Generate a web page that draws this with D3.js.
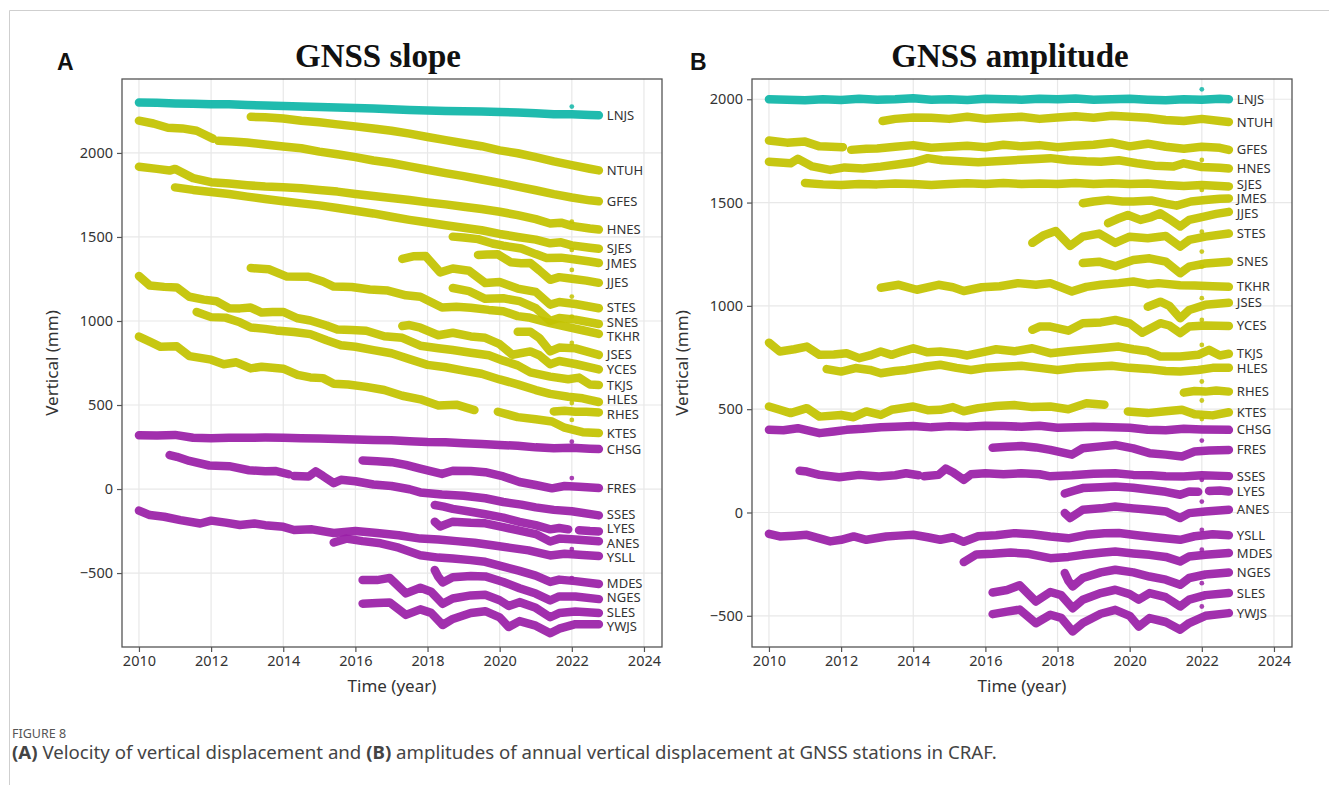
<!DOCTYPE html>
<html><head><meta charset="utf-8">
<script src="https://cdn.jsdelivr.net/npm/d3@7"></script>
<style>
body{margin:0;background:#fff}
svg{display:block}
</style>
</head><body>
<svg id="c" width="1329" height="785"></svg>
<script>
// ---------- DATA ----------
const xTickYears = [2010, 2012, 2014, 2016, 2018, 2020, 2022, 2024];
const yTickValues = [-500, 0, 500, 1000, 1500, 2000];
const stations = ["LNJS","NTUH","GFES","HNES","SJES","JMES","JJES","STES","SNES","TKHR","JSES","YCES","TKJS","HLES","RHES","KTES",
                  "CHSG","FRES","SSES","LYES","ANES","YSLL","MDES","NGES","SLES","YWJS"];
const stationGroup = ["c","y","y","y","y","y","y","y","y","y","y","y","y","y","y","y",
                      "m","m","m","m","m","m","m","m","m","m"];

// Panel A: vertical displacement (mm) with trend, [year, value]; null = gap
const slopeSeries = [
 [[2010,2300],[2010.5,2298],[2011,2294],[2011.5,2292],[2012,2290],[2012.5,2290],[2013,2285],[2013.5,2282],[2014,2280],[2014.5,2276],[2015,2273],[2015.5,2270],[2016,2268],[2016.5,2264],[2017,2260],[2017.5,2256],[2018,2252],[2018.5,2250],[2019,2248],[2019.5,2246],[2020,2244],[2020.5,2240],[2021,2236],[2021.5,2230],[2022,2230],[2022.5,2226],[2022.75,2224]],
 [[2013.1,2215],[2013.5,2212],[2014,2205],[2014.5,2192],[2015,2182],[2015.5,2170],[2016,2158],[2016.5,2146],[2017,2132],[2017.5,2115],[2018,2095],[2018.5,2076],[2019,2058],[2019.5,2040],[2020,2015],[2020.5,1998],[2021,1975],[2021.5,1950],[2022,1928],[2022.5,1906],[2022.75,1896]],
 [[2010,2192],[2010.4,2175],[2010.8,2150],[2011.2,2146],[2011.6,2132],[2012.05,2085],null,[2012.2,2072],[2012.6,2068],[2013,2062],[2013.5,2050],[2014,2038],[2014.5,2028],[2015,2008],[2015.5,1992],[2016,1975],[2016.5,1955],[2017,1940],[2017.5,1920],[2018,1900],[2018.5,1880],[2019,1862],[2019.5,1842],[2020,1822],[2020.5,1800],[2021,1778],[2021.5,1755],[2022,1735],[2022.5,1718],[2022.75,1712]],
 [[2010,1918],[2010.5,1905],[2010.85,1895],[2011,1905],[2011.5,1850],[2012,1826],[2012.5,1818],[2013,1808],[2013.5,1800],[2014,1796],[2014.5,1790],[2015,1780],[2015.5,1770],[2016,1756],[2016.5,1744],[2017,1732],[2017.5,1720],[2018,1706],[2018.5,1694],[2019,1680],[2019.5,1666],[2020,1650],[2020.5,1630],[2021,1606],[2021.4,1580],[2021.7,1585],[2022,1566],[2022.5,1550],[2022.75,1544]],
 [[2011,1795],[2011.5,1780],[2012,1768],[2012.5,1756],[2013,1740],[2013.5,1726],[2014,1712],[2014.5,1700],[2015,1688],[2015.5,1672],[2016,1656],[2016.5,1640],[2017,1620],[2017.5,1602],[2018,1586],[2018.5,1570],[2019,1555],[2019.5,1540],[2020,1518],[2020.5,1500],[2021,1484],[2021.4,1462],[2021.7,1468],[2022,1450],[2022.5,1436],[2022.75,1430]],
 [[2018.7,1502],[2019,1497],[2019.4,1487],[2019.8,1461],[2020.1,1448],[2020.6,1431],[2021,1398],[2021.3,1375],[2021.7,1377],[2022.1,1366],[2022.5,1354],[2022.75,1345]],
 [[2019.4,1393],[2019.65,1396],[2019.95,1397],[2020.3,1350],[2020.6,1344],[2020.85,1345],[2021.1,1301],[2021.4,1245],[2021.65,1261],[2022,1251],[2022.4,1240],[2022.75,1227]],
 [[2017.3,1369],[2017.6,1385],[2017.95,1386],[2018.35,1289],[2018.7,1312],[2019.15,1299],[2019.6,1226],[2020,1232],[2020.5,1193],[2021,1173],[2021.4,1097],[2021.65,1113],[2022.1,1101],[2022.75,1076]],
 [[2018.7,1196],[2019.15,1178],[2019.6,1132],[2020.1,1135],[2020.55,1118],[2021,1077],[2021.4,1000],[2021.65,1018],[2022.1,1008],[2022.75,982]],
 [[2013.1,1315],[2013.6,1308],[2014.1,1264],[2014.7,1263],[2015.1,1235],[2015.4,1205],[2015.9,1202],[2016.4,1187],[2016.9,1181],[2017.4,1153],[2017.8,1144],[2018.4,1080],[2018.8,1085],[2019.2,1079],[2019.7,1066],[2020.1,1058],[2020.5,1029],[2020.8,1021],[2021.4,987],[2021.8,968],[2022.3,945],[2022.75,923]],
 [[2020.5,936],[2020.85,936],[2021.1,899],[2021.4,819],[2021.65,842],[2022.1,837],[2022.75,798]],
 [[2017.3,970],[2017.5,976],[2017.8,960],[2018.3,915],[2018.7,930],[2019.2,908],[2019.6,900],[2020,862],[2020.35,799],[2020.85,819],[2021.1,796],[2021.4,743],[2021.65,762],[2022.1,744],[2022.75,712]],
 [[2010,1268],[2010.3,1211],[2010.7,1203],[2011.05,1200],[2011.4,1144],[2011.8,1127],[2012.15,1117],[2012.5,1076],[2012.8,1075],[2013.1,1080],[2013.4,1050],[2013.7,1053],[2014,1054],[2014.4,1016],[2014.75,1003],[2015.2,973],[2015.5,949],[2015.9,946],[2016.3,942],[2016.8,909],[2017.3,900],[2017.8,853],[2018.3,838],[2018.7,827],[2019.2,811],[2019.7,796],[2020.1,764],[2020.5,736],[2020.85,694],[2021.4,669],[2021.9,653],[2022.2,663],[2022.5,622],[2022.75,619]],
 [[2011.6,1054],[2012,1023],[2012.4,1020],[2012.8,992],[2013.1,961],[2013.5,953],[2013.8,944],[2014.3,934],[2014.75,922],[2015.2,885],[2015.6,856],[2016,847],[2016.5,827],[2017,808],[2017.5,773],[2018,739],[2018.5,725],[2019,705],[2019.5,686],[2020,652],[2020.5,623],[2021,589],[2021.4,566],[2021.9,549],[2022.3,540],[2022.75,518]],
 [[2021.5,462],[2021.8,466],[2022.1,460],[2022.4,460],[2022.75,456]],
 [[2010,907],[2010.3,877],[2010.6,846],[2011.05,849],[2011.4,791],[2012,770],[2012.35,743],[2012.7,754],[2013.1,718],[2013.4,728],[2014,716],[2014.4,679],[2014.75,664],[2015.1,660],[2015.4,626],[2015.8,622],[2016.3,608],[2016.8,589],[2017.3,555],[2017.8,534],[2018.3,497],[2018.8,502],[2019.3,470],null,[2019.95,460],[2020.5,428],[2021,415],[2021.45,402],[2021.8,365],[2022.3,338],[2022.75,333]],
 [[2010,320],[2010.5,318],[2011,322],[2011.5,305],[2012,302],[2012.5,305],[2013,305],[2013.5,306],[2014,305],[2014.5,302],[2015,300],[2015.5,298],[2016,295],[2016.5,292],[2017,290],[2017.5,285],[2018,280],[2018.5,278],[2019,272],[2019.5,268],[2020,262],[2020.5,258],[2021,248],[2021.5,242],[2022,245],[2022.5,240],[2022.75,238]],
 [[2016.2,170],[2016.6,166],[2017,160],[2017.4,144],[2017.8,122],[2018.4,90],[2018.7,109],[2019.2,107],[2019.6,100],[2020.1,75],[2020.55,42],[2021,24],[2021.45,4],[2021.8,18],[2022.2,14],[2022.75,6]],
 [[2010.85,202],[2011.05,192],[2011.4,167],[2011.95,140],[2012.5,136],[2013.05,112],[2013.5,106],[2013.8,107],[2014.15,88],null,[2014.3,78],[2014.7,74],[2014.9,105],[2015.1,78],[2015.4,35],[2015.6,55],[2016,46],[2016.5,27],[2017,18],[2017.5,-1],[2017.8,-20],[2018.4,-32],[2019,-40],[2019.6,-55],[2020.1,-77],[2020.6,-93],[2021,-109],[2021.5,-124],[2022,-132],[2022.75,-157]],
 [[2018.2,-95],[2018.45,-105],[2018.7,-118],[2019.2,-135],[2019.6,-150],[2020.1,-170],[2020.55,-195],[2021,-215],[2021.4,-240],[2021.65,-232],[2021.9,-240],null,[2022.2,-245],[2022.5,-250],[2022.75,-252]],
 [[2018.2,-195],[2018.35,-223],[2018.7,-194],[2019.2,-201],[2019.6,-204],[2020.1,-227],[2020.55,-247],[2021,-268],[2021.4,-312],[2021.65,-295],[2022.1,-300],[2022.75,-311]],
 [[2010,-128],[2010.3,-155],[2010.7,-165],[2011.15,-185],[2011.7,-205],[2012,-188],[2012.4,-200],[2012.8,-214],[2013.2,-205],[2013.5,-215],[2014,-225],[2014.3,-244],[2014.8,-240],[2015.4,-262],[2016,-250],[2016.6,-262],[2017.2,-275],[2017.8,-295],[2018.3,-300],[2018.8,-310],[2019.3,-320],[2019.8,-335],[2020.3,-350],[2020.8,-365],[2021.4,-395],[2021.8,-385],[2022.3,-392],[2022.75,-399]],
 [[2015.4,-318],[2015.75,-295],[2016.2,-310],[2016.7,-323],[2017.2,-349],[2017.8,-394],[2018.3,-408],[2018.7,-414],[2019.2,-423],[2019.6,-433],[2020.1,-462],[2020.55,-487],[2021,-515],[2021.4,-553],[2021.65,-539],[2022.1,-548],[2022.75,-565]],
 [[2018.2,-482],[2018.3,-523],[2018.42,-556],[2018.7,-525],[2019.2,-518],[2019.6,-520],[2020.1,-553],[2020.55,-590],[2021,-622],[2021.4,-663],[2021.65,-639],[2022.1,-640],[2022.75,-655]],
 [[2016.2,-542],[2016.6,-542],[2016.95,-529],[2017.4,-621],[2017.8,-587],[2018.1,-611],[2018.42,-683],[2018.7,-651],[2019.2,-633],[2019.6,-629],[2020,-662],[2020.25,-696],[2020.55,-673],[2021,-707],[2021.4,-763],[2021.65,-738],[2022.1,-729],[2022.75,-738]],
 [[2016.2,-682],[2016.6,-678],[2016.95,-675],[2017.4,-749],[2017.8,-716],[2018.1,-737],[2018.42,-809],[2018.7,-773],[2019.2,-738],[2019.6,-727],[2020,-764],[2020.25,-821],[2020.55,-786],[2021,-813],[2021.4,-858],[2021.65,-831],[2022.1,-804],[2022.75,-804]]
];

// Panel B: annual (detrended) vertical displacement (mm), [year, value]; null = gap
const ampSeries = [
 [[2010,2000],[2010.5,1998],[2011,1995],[2011.5,2000],[2012,1996],[2012.5,2002],[2013,1998],[2013.5,2000],[2014,2005],[2014.5,1998],[2015,2000],[2015.5,1996],[2016,2002],[2016.5,2000],[2017,1998],[2017.5,2002],[2018,2000],[2018.5,2004],[2019,1998],[2019.5,2000],[2020,2002],[2020.5,1998],[2021,1995],[2021.5,2000],[2022,1998],[2022.5,2002],[2022.75,2000]],
 [[2013.15,1895],[2013.5,1905],[2014,1912],[2014.5,1910],[2015,1905],[2015.5,1915],[2016,1905],[2016.5,1910],[2017,1915],[2017.5,1905],[2018,1912],[2018.5,1918],[2019,1910],[2019.5,1920],[2020,1915],[2020.5,1910],[2021,1900],[2021.5,1895],[2022,1905],[2022.5,1895],[2022.75,1890]],
 [[2010,1800],[2010.5,1790],[2011,1795],[2011.4,1772],[2012.05,1768],null,[2012.28,1755],[2012.7,1760],[2013,1762],[2013.5,1770],[2014,1778],[2014.5,1765],[2015,1770],[2015.5,1775],[2016,1768],[2016.5,1780],[2017,1772],[2017.5,1778],[2018,1768],[2018.5,1775],[2019,1780],[2019.5,1790],[2020,1772],[2020.5,1785],[2021,1770],[2021.5,1760],[2022,1770],[2022.5,1765],[2022.75,1755]],
 [[2010,1698],[2010.6,1690],[2010.8,1712],[2011.2,1675],[2011.7,1658],[2012.1,1670],[2012.6,1665],[2013.1,1674],[2013.6,1685],[2014,1695],[2014.4,1715],[2014.8,1705],[2015.3,1700],[2015.8,1695],[2016.3,1700],[2016.8,1705],[2017.3,1710],[2017.8,1715],[2018.3,1705],[2018.8,1700],[2019.2,1698],[2019.7,1705],[2020.2,1690],[2020.7,1678],[2021.2,1674],[2021.5,1690],[2022,1672],[2022.5,1668],[2022.75,1665]],
 [[2011,1595],[2011.5,1588],[2012,1585],[2012.5,1590],[2013,1588],[2013.5,1592],[2014,1590],[2014.5,1585],[2015,1590],[2015.5,1594],[2016,1590],[2016.5,1595],[2017,1590],[2017.5,1592],[2018,1590],[2018.5,1595],[2019,1590],[2019.5,1594],[2020,1590],[2020.5,1592],[2021,1585],[2021.5,1580],[2022,1585],[2022.5,1580],[2022.75,1578]],
 [[2018.7,1497],[2019,1505],[2019.4,1513],[2019.8,1505],[2020.1,1505],[2020.6,1510],[2021,1495],[2021.3,1485],[2021.7,1505],[2022.1,1512],[2022.5,1518],[2022.75,1520]],
 [[2019.4,1400],[2019.65,1420],[2019.95,1440],[2020.3,1416],[2020.6,1430],[2020.85,1448],[2021.1,1420],[2021.4,1384],[2021.65,1416],[2022,1430],[2022.4,1445],[2022.75,1455]],
 [[2017.3,1305],[2017.6,1340],[2017.95,1362],[2018.35,1290],[2018.7,1335],[2019.15,1350],[2019.6,1305],[2020,1335],[2020.5,1327],[2021,1338],[2021.4,1287],[2021.65,1319],[2022.1,1335],[2022.75,1350]],
 [[2018.7,1207],[2019.15,1214],[2019.6,1192],[2020.1,1222],[2020.55,1230],[2021,1214],[2021.4,1158],[2021.65,1190],[2022.1,1205],[2022.75,1214]],
 [[2013.1,1088],[2013.6,1102],[2014.1,1078],[2014.7,1102],[2015.1,1090],[2015.4,1072],[2015.9,1090],[2016.4,1095],[2016.9,1110],[2017.4,1102],[2017.8,1110],[2018.4,1070],[2018.8,1092],[2019.2,1102],[2019.7,1110],[2020.1,1118],[2020.5,1105],[2020.8,1110],[2021.4,1100],[2021.8,1098],[2022.3,1095],[2022.75,1092]],
 [[2020.5,996],[2020.85,1020],[2021.1,1000],[2021.4,940],[2021.65,980],[2022.1,1005],[2022.75,1015]],
 [[2017.3,884],[2017.5,900],[2017.8,900],[2018.3,880],[2018.7,916],[2019.2,920],[2019.6,932],[2020,915],[2020.35,870],[2020.85,916],[2021.1,905],[2021.4,868],[2021.65,900],[2022.1,905],[2022.75,903]],
 [[2010,822],[2010.3,779],[2010.7,790],[2011.05,803],[2011.4,763],[2011.8,765],[2012.15,771],[2012.5,747],[2012.8,760],[2013.1,779],[2013.4,763],[2013.7,780],[2014,795],[2014.4,775],[2014.75,779],[2015.2,770],[2015.5,760],[2015.9,775],[2016.3,790],[2016.8,780],[2017.3,795],[2017.8,771],[2018.3,780],[2018.7,787],[2019.2,795],[2019.7,803],[2020.1,790],[2020.5,780],[2020.85,755],[2021.4,755],[2021.9,763],[2022.2,787],[2022.5,760],[2022.75,768]],
 [[2011.6,694],[2012,682],[2012.4,699],[2012.8,690],[2013.1,674],[2013.5,685],[2013.8,690],[2014.3,705],[2014.75,715],[2015.2,700],[2015.6,690],[2016,700],[2016.5,705],[2017,710],[2017.5,700],[2018,690],[2018.5,700],[2019,705],[2019.5,710],[2020,700],[2020.5,695],[2021,685],[2021.4,682],[2021.9,690],[2022.3,700],[2022.75,700]],
 [[2021.5,580],[2021.8,588],[2022.1,585],[2022.4,590],[2022.75,585]],
 [[2010,513],[2010.3,497],[2010.6,481],[2011.05,505],[2011.4,464],[2012,472],[2012.35,461],[2012.7,489],[2013.1,472],[2013.4,497],[2014,513],[2014.4,495],[2014.75,497],[2015.1,510],[2015.4,490],[2015.8,505],[2016.3,515],[2016.8,520],[2017.3,510],[2017.8,513],[2018.3,500],[2018.8,529],[2019.3,521],null,[2019.95,489],[2020.5,481],[2021,490],[2021.45,497],[2021.8,475],[2022.3,470],[2022.75,485]],
 [[2010,400],[2010.4,398],[2010.8,408],[2011.4,384],[2011.8,392],[2012.15,400],[2012.6,405],[2013.1,413],[2013.5,415],[2014,419],[2014.5,412],[2015,418],[2015.5,415],[2016,420],[2016.5,418],[2017,415],[2017.5,420],[2018,410],[2018.5,412],[2019,415],[2019.5,412],[2020,410],[2020.5,400],[2021,398],[2021.5,405],[2022,402],[2022.75,400]],
 [[2016.2,313],[2016.6,318],[2017,322],[2017.4,315],[2017.8,303],[2018.4,280],[2018.7,311],[2019.2,320],[2019.6,327],[2020.1,310],[2020.55,287],[2021,280],[2021.45,271],[2021.8,295],[2022.2,300],[2022.75,303]],
 [[2010.85,202],[2011.05,198],[2011.4,182],[2011.95,171],[2012.5,182],[2013.05,174],[2013.5,180],[2013.8,190],[2014.15,180],null,[2014.3,175],[2014.7,182],[2014.9,212],[2015.1,195],[2015.4,158],[2015.6,185],[2016,190],[2016.5,185],[2017,190],[2017.5,185],[2017.8,175],[2018.4,180],[2019,188],[2019.6,190],[2020.1,182],[2020.6,180],[2021,175],[2021.5,174],[2022,180],[2022.75,176]],
 [[2018.2,92],[2018.45,105],[2018.7,118],[2019.2,122],[2019.6,126],[2020.1,120],[2020.55,110],[2021,100],[2021.4,86],[2021.65,102],[2021.9,100],null,[2022.2,104],[2022.5,106],[2022.75,102]],
 [[2018.2,-3],[2018.35,-27],[2018.7,13],[2019.2,20],[2019.6,29],[2020.1,20],[2020.55,13],[2021,5],[2021.4,-27],[2021.65,-3],[2022.1,5],[2022.75,13]],
 [[2010,-103],[2010.3,-116],[2010.7,-112],[2011.05,-108],[2011.4,-125],[2011.7,-140],[2012,-132],[2012.35,-116],[2012.7,-132],[2013.25,-116],[2013.6,-112],[2014,-108],[2014.4,-120],[2014.75,-132],[2015.1,-120],[2015.4,-142],[2015.8,-115],[2016.3,-110],[2016.8,-100],[2017.3,-105],[2017.8,-116],[2018.3,-125],[2018.8,-108],[2019.3,-100],[2019.7,-99],[2020.2,-110],[2020.7,-120],[2021.4,-132],[2021.8,-115],[2022.3,-105],[2022.75,-110]],
 [[2015.4,-240],[2015.75,-203],[2016.2,-200],[2016.7,-194],[2017.2,-200],[2017.8,-221],[2018.3,-215],[2018.7,-205],[2019.2,-195],[2019.6,-189],[2020.1,-198],[2020.55,-205],[2021,-215],[2021.4,-237],[2021.65,-213],[2022.1,-205],[2022.75,-196]],
 [[2018.2,-293],[2018.3,-330],[2018.42,-358],[2018.7,-317],[2019.2,-290],[2019.6,-277],[2020.1,-290],[2020.55,-310],[2021,-325],[2021.4,-350],[2021.65,-317],[2022.1,-300],[2022.75,-290]],
 [[2016.2,-387],[2016.6,-375],[2016.95,-352],[2017.4,-431],[2017.8,-385],[2018.1,-400],[2018.42,-463],[2018.7,-422],[2019.2,-390],[2019.6,-374],[2020,-395],[2020.25,-422],[2020.55,-390],[2021,-410],[2021.4,-455],[2021.65,-422],[2022.1,-400],[2022.75,-390]],
 [[2016.2,-492],[2016.6,-480],[2016.95,-470],[2017.4,-536],[2017.8,-495],[2018.1,-510],[2018.42,-576],[2018.7,-535],[2019.2,-490],[2019.6,-471],[2020,-500],[2020.25,-552],[2020.55,-511],[2021,-530],[2021.4,-567],[2021.65,-535],[2022.1,-500],[2022.75,-487]]
];

// isolated points near 2022.0: [year, value, group]
const slopeOutliers = [[2022,2276,"c"],[2022,1591,"y"],[2022,1423,"y"],[2022,1304,"y"],[2022,1145,"y"],[2022,1026,"y"],[2022,869,"y"],[2022,512,"y"],[2022,411,"y"],[2022,282,"m"],[2022,65,"m"],[2022,-357,"m"],[2022,-530,"m"]];
const ampOutliers = [[2022,2048,"c"],[2022,1706,"y"],[2022,1561,"y"],[2022,1359,"y"],[2022,1263,"y"],[2022,1190,"y"],[2022,1037,"y"],[2022,932,"y"],[2022,811,"y"],[2022,634,"y"],[2022,542,"y"],[2022,452,"y"],[2022,348,"m"],[2022,158,"m"],[2022,53,"m"],[2022,-84,"m"],[2022,-180,"m"],[2022,-342,"m"],[2022,-455,"m"]];

// ---------- STYLE ----------
const groupColor = {c:"#0fb6a8", y:"#c3c300", m:"#9a1fa7"};
const xDomain = [2009.53, 2024.5];
const SANS = '"Noto Sans","Open Sans",sans-serif';
const SERIF = '"Liberation Serif","Times New Roman",serif';
const ARIAL = '"Liberation Sans",Arial,sans-serif';

const svg = d3.select("#c");
svg.append("rect").attr("width",1329).attr("height",785).attr("fill","#fff");
// outer figure border
svg.append("path").attr("d","M9.5,785 V10.5 H1329").attr("fill","none").attr("stroke","#cfcfcf").attr("stroke-width",1);

function drawPanel(cfg){
  const g = svg.append("g");
  const x = d3.scaleLinear().domain(xDomain).range([cfg.left, cfg.right]);
  const y = d3.scaleLinear().domain(cfg.yDomain).range([cfg.bottom, cfg.top]);

  // grid
  g.append("g").selectAll("line").data(xTickYears).join("line")
    .attr("x1",d=>x(d)).attr("x2",d=>x(d)).attr("y1",cfg.top).attr("y2",cfg.bottom)
    .attr("stroke","#e8e8e8").attr("stroke-width",1.2);
  g.append("g").selectAll("line").data(yTickValues).join("line")
    .attr("y1",d=>y(d)).attr("y2",d=>y(d)).attr("x1",cfg.left).attr("x2",cfg.right)
    .attr("stroke","#e8e8e8").attr("stroke-width",1.2);

  const line = d3.line().defined(d=>d!==null).x(d=>x(d[0])).y(d=>y(d[1]));
  cfg.series.forEach((s,i)=>{
    const col = groupColor[stationGroup[i]];
    g.append("path").attr("d",line(s)).attr("fill","none")
      .attr("stroke",col).attr("stroke-width",8.5)
      .attr("stroke-linecap","round").attr("stroke-linejoin","round")
      .attr("opacity",0.93);
  });
  g.append("g").selectAll("circle").data(cfg.outliers).join("circle")
    .attr("cx",d=>x(d[0])).attr("cy",d=>y(d[1])).attr("r",2.4)
    .attr("fill",d=>groupColor[d[2]]).attr("opacity",0.85);

  // station labels at last value, nudged apart slightly
  const labs = cfg.series.map((s,i)=>{
    const last = s.filter(d=>d!==null).slice(-1)[0];
    return {name:stations[i], x:x(last[0])+8, y:y(last[1])};
  }).sort((a,b)=>a.y-b.y);
  const gap = 14.5;
  for(let it=0; it<80; it++){
    for(let k=1;k<labs.length;k++){
      const d = labs[k].y - labs[k-1].y;
      if(d < gap){ const s=(gap-d)/2; labs[k].y+=s; labs[k-1].y-=s; }
    }
  }
  g.append("g").selectAll("text").data(labs).join("text")
    .attr("x",d=>d.x).attr("y",d=>d.y).attr("dy","0.35em")
    .style("font-family",SANS).style("font-size","13px").attr("fill","#333")
    .text(d=>d.name);

  // frame
  g.append("rect").attr("x",cfg.left).attr("y",cfg.top)
    .attr("width",cfg.right-cfg.left).attr("height",cfg.bottom-cfg.top)
    .attr("fill","none").attr("stroke","#555").attr("stroke-width",1.3);

  // axes
  const fmt = d3.format("");
  const ax = g.append("g").attr("transform",`translate(${cfg.left},0)`)
    .call(d3.axisLeft(y).tickValues(yTickValues).tickSize(5).tickPadding(4).tickFormat(fmt));
  const bx = g.append("g").attr("transform",`translate(0,${cfg.bottom})`)
    .call(d3.axisBottom(x).tickValues(xTickYears).tickSize(5).tickPadding(4).tickFormat(fmt));
  [ax,bx].forEach(a=>{
    a.select(".domain").remove();
    a.selectAll(".tick line").attr("stroke","#555").attr("stroke-width",1.2);
    a.selectAll(".tick text").style("font-size","14.5px").attr("fill","#333")
      .style("font-family",SANS);
  });

  // axis titles
  g.append("text").attr("x",(cfg.left+cfg.right)/2).attr("y",692)
    .attr("text-anchor","middle").style("font-family",SANS).style("font-size","17px").attr("fill","#333").text("Time (year)");
  g.append("text").attr("transform",`translate(${cfg.left-64},${(cfg.top+cfg.bottom)/2}) rotate(-90)`)
    .attr("text-anchor","middle").style("font-family",SANS).style("font-size","17px").attr("fill","#333").text("Vertical (mm)");

  // title and panel letter
  g.append("text").attr("x",cfg.titleX).attr("y",67).attr("text-anchor","middle")
    .style("font-family",SERIF).style("font-weight","bold")
    .style("font-size","33px").attr("fill","#111").text(cfg.title);
  g.append("text").attr("x",cfg.letterX).attr("y",70)
    .style("font-family",ARIAL).style("font-weight","bold")
    .style("font-size","23px").attr("fill","#111").text(cfg.letter);
}

drawPanel({left:122,right:662,top:79,bottom:647,yDomain:[-940,2440],series:slopeSeries,outliers:slopeOutliers,
           title:"GNSS slope",titleX:378,letter:"A",letterX:57});
drawPanel({left:752,right:1292,top:79,bottom:647,yDomain:[-651,2098],series:ampSeries,outliers:ampOutliers,
           title:"GNSS amplitude",titleX:1010,letter:"B",letterX:690});

// caption
svg.append("text").attr("x",12).attr("y",738).style("font-size","12.5px").attr("fill","#555")
  .style("font-family",SANS).text("FIGURE 8");
const cap = svg.append("text").attr("x",12).attr("y",759).style("font-size","16px").attr("fill","#444")
  .style("font-family",SANS);
cap.append("tspan").style("font-weight","bold").text("(A)");
cap.append("tspan").text(" Velocity of vertical displacement and ");
cap.append("tspan").style("font-weight","bold").text("(B)");
cap.append("tspan").text(" amplitudes of annual vertical displacement at GNSS stations in CRAF.");
// fit caption to its width in the reference
const capW = cap.node().getComputedTextLength();
cap.style("font-size", (16*985/capW).toFixed(2)+"px");
</script>
</body></html>
